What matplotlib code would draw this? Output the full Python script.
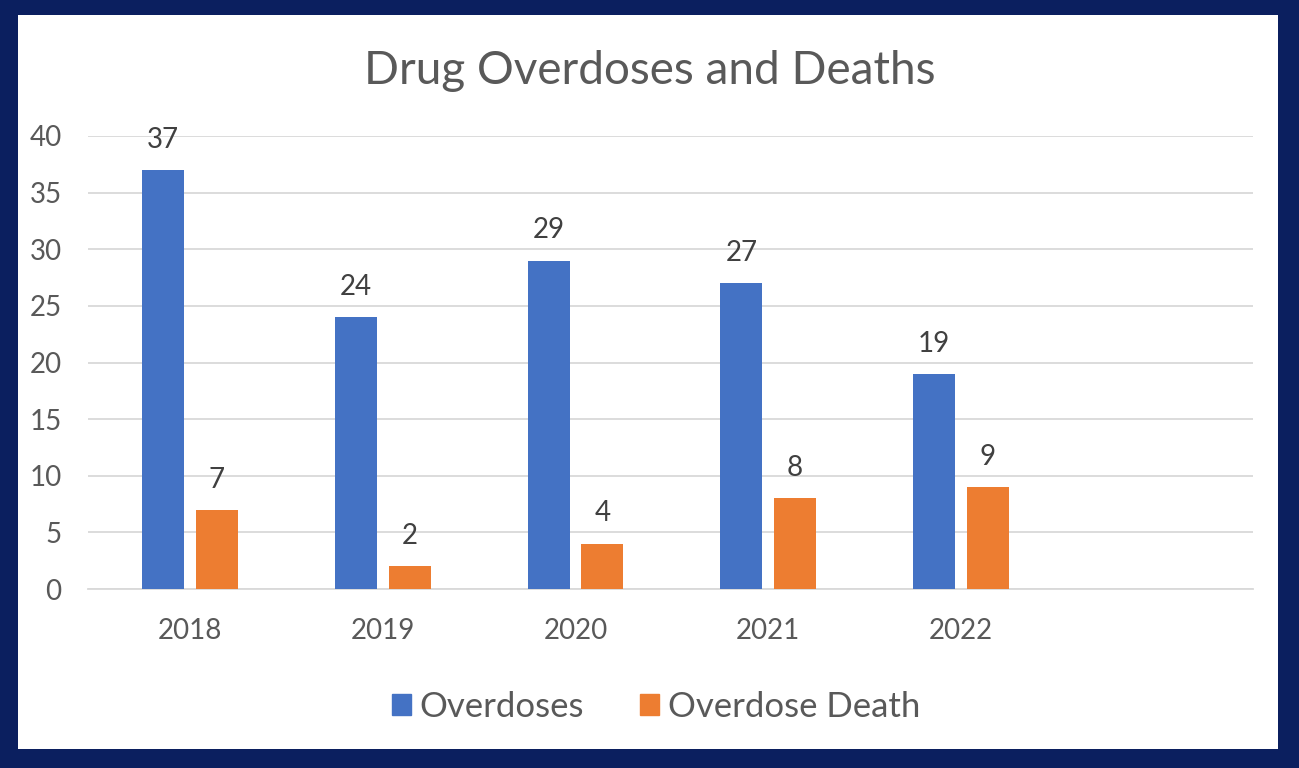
import matplotlib
matplotlib.use("Agg")
import matplotlib.pyplot as plt
from matplotlib.patches import Rectangle, Patch
import numpy as np

years = ["2018", "2019", "2020", "2021", "2022", ""]
overdoses = [37, 24, 29, 27, 19, None]
deaths = [7, 2, 4, 8, 9, None]
series_names = ["Overdoses", "Overdose Death"]
yticks = [0, 5, 10, 15, 20, 25, 30, 35, 40]

blue = "#4472c4"
orange = "#ed7d31"
navy = "#0b1f5f"
grey_text = "#595959"
grid_c = "#d9d9d9"

plt.rcParams["font.family"] = ["Lato", "DejaVu Sans"]

W, H = 1299, 768
fig = plt.figure(figsize=(W / 100, H / 100), dpi=100)
fig.patch.set_facecolor(navy)
fig.add_artist(Rectangle((18 / W, 19 / H), (1278 - 18) / W, (753 - 19) / H,
                         transform=fig.transFigure, facecolor="white", edgecolor="none", zorder=0))

ax = fig.add_axes([88 / W, (H - 589) / H, (1253 - 88) / W, (589 - 136) / H])
ax.set_facecolor("none")

x = np.arange(len(years))
w = 0.218
off = 0.139
ov_x = [xi for xi, v in zip(x, overdoses) if v is not None]
ov_v = [v for v in overdoses if v is not None]
de_x = [xi for xi, v in zip(x, deaths) if v is not None]
de_v = [v for v in deaths if v is not None]
b1 = ax.bar(np.array(ov_x) - off, ov_v, width=w, color=blue, zorder=3)
b2 = ax.bar(np.array(de_x) + off, de_v, width=w, color=orange, zorder=3)

for bars, vals in ((b1, ov_v), (b2, de_v)):
    for r, v in zip(bars, vals):
        ax.annotate(str(v), (r.get_x() + r.get_width() / 2, r.get_height()),
                    xytext=(0, 16), textcoords="offset points", ha="center", va="baseline",
                    fontsize=20, color="#404040")

ax.set_xlim(-0.529, 5.515)
ax.set_ylim(0, 40)
ax.set_yticks(yticks)
ax.set_xticks(x)
ax.set_xticklabels(years)
ax.yaxis.grid(True, color=grid_c, linewidth=1.3, zorder=0)
ax.set_axisbelow(True)
for s in ["top", "right", "left"]:
    ax.spines[s].set_visible(False)
ax.spines["bottom"].set_color(grid_c)
ax.spines["bottom"].set_linewidth(1.3)
ax.tick_params(axis="both", length=0, labelsize=20, labelcolor=grey_text)
ax.tick_params(axis="y", pad=19)
ax.tick_params(axis="x", pad=21)

fig.text(650 / W, 1 - 71 / H, "Drug Overdoses and Deaths", ha="center", va="center",
         fontsize=33, color=grey_text)

handles = [Patch(color=blue), Patch(color=orange)]
fig.legend(handles, series_names, loc="center", bbox_to_anchor=(656 / W, 1 - 707 / H),
           ncol=2, frameon=False, fontsize=25, labelcolor=grey_text,
           handlelength=0.55, handleheight=0.55, handletextpad=0.25, columnspacing=1.6)

fig.savefig("out.png", dpi=100, facecolor=fig.get_facecolor())
